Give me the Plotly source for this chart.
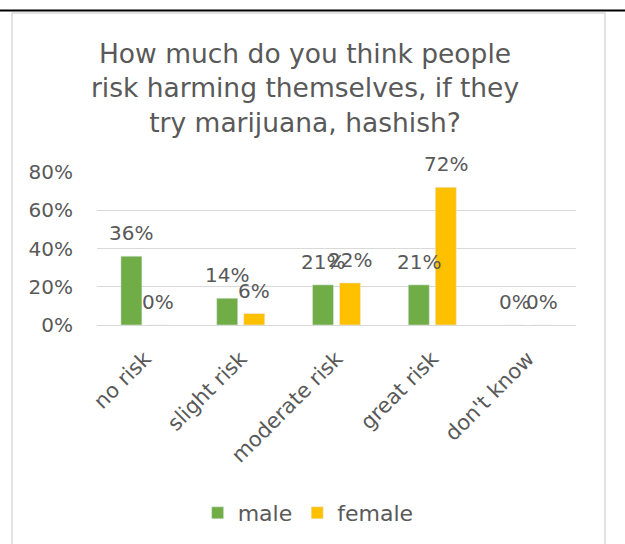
import plotly.graph_objects as go

categories = ["no risk", "slight risk", "moderate risk", "great risk", "don't know"]
male = [0.36, 0.14, 0.21, 0.21, 0.00]
female = [0.00, 0.06, 0.22, 0.72, 0.00]
y_ticks = [0, 0.2, 0.4, 0.6, 0.8]
y_tick_labels = ["0%", "20%", "40%", "60%", "80%"]

GREEN = "#70AD47"
GOLD = "#FFC000"
TXT = "#595959"
FONT = "DejaVu Sans"

W, H = 625, 544
L, R, T, B = 97, 49, 172, 219
pw, ph = W - L - R, H - T - B


def px_x(x):
    return (x - L) / pw


def px_y(y):
    return (H - B - y) / ph


fig = go.Figure()
fig.add_trace(go.Bar(name="male", x=categories, y=male, marker_color=GREEN))
fig.add_trace(go.Bar(name="female", x=categories, y=female, marker_color=GOLD))

annotations = []
for series, shift in ((male, -13.5), (female, 13.5)):
    for c, v in zip(categories, series):
        annotations.append(dict(
            x=c, y=v, xref="x", yref="y", text=f"{round(v * 100)}%",
            showarrow=False, xshift=shift, yshift=23, yanchor="middle",
            font=dict(family=FONT, size=20, color=TXT),
        ))

shapes = [
    dict(type="rect", xref="paper", yref="paper",
         x0=px_x(12), x1=px_x(605), y0=px_y(570), y1=px_y(13),
         line=dict(color="#D9D9D9", width=1.5), fillcolor="rgba(0,0,0,0)", layer="below"),
    dict(type="line", xref="paper", yref="paper",
         x0=px_x(0), x1=px_x(625), y0=px_y(10.5), y1=px_y(10.5),
         line=dict(color="black", width=2)),
]

fig.update_layout(
    width=W, height=H,
    margin=dict(l=L, r=R, t=T, b=B, pad=0),
    paper_bgcolor="white", plot_bgcolor="white",
    barmode="group", bargap=0.436, bargroupgap=0.222,
    title=dict(
        text="How much do you think people<br>risk harming themselves, if they<br>try marijuana, hashish?",
        x=0.488, xanchor="center", y=1 - 63 / H, yanchor="top",
        font=dict(family=FONT, size=26.5, color=TXT),
    ),
    font=dict(family=FONT, color=TXT),
    xaxis=dict(
        type="category", tickangle=-45, showline=True, linecolor="#D9D9D9",
        tickfont=dict(family=FONT, size=21, color=TXT), ticks="",
        ticklabelstandoff=12,
    ),
    yaxis=dict(
        range=[0, 0.8], tickvals=y_ticks, ticktext=y_tick_labels,
        showgrid=True, gridcolor="#D9D9D9", gridwidth=1, zeroline=False,
        tickfont=dict(family=FONT, size=20, color=TXT), ticklabelstandoff=23,
    ),
    legend=dict(
        orientation="h", x=0.493, xref="container", xanchor="center",
        y=1 - 513 / H, yref="container", yanchor="middle",
        font=dict(family=FONT, size=22, color=TXT),
        itemwidth=30,
    ),
    annotations=annotations,
    shapes=shapes,
)

fig.write_html("out.html", config={"displayModeBar": False},
               post_script="document.body.style.margin='0';")
